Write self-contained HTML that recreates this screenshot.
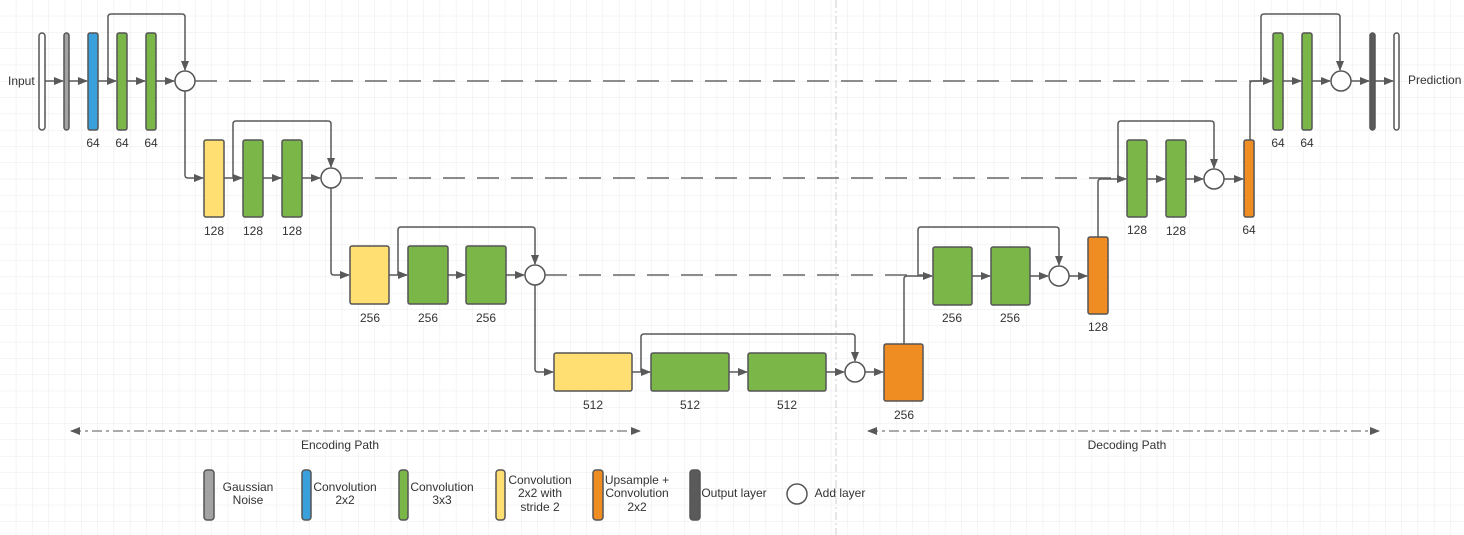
<!DOCTYPE html>
<html><head><meta charset="utf-8"><style>
html,body{margin:0;padding:0;background:#fff}
svg{display:block}
text{font-family:"Liberation Sans",sans-serif;font-size:12px;fill:#333}
</style></head><body>
<svg width="1464" height="535" viewBox="0 0 1464 535" xmlns="http://www.w3.org/2000/svg">
<defs>
<pattern id="g" width="16.3" height="16.3" patternUnits="userSpaceOnUse"><path d="M16.3 0V16.3H0" fill="none" stroke="#ebebeb" stroke-width="1"/></pattern>
<marker id="a" markerWidth="10" markerHeight="8" refX="9" refY="4" orient="auto" markerUnits="userSpaceOnUse"><path d="M0 0L10 4L0 8z" fill="#595959"/></marker>
<marker id="as" markerWidth="10" markerHeight="8" refX="1" refY="4" orient="auto" markerUnits="userSpaceOnUse"><path d="M10 0L0 4L10 8z" fill="#595959"/></marker>
</defs>
<rect width="1464" height="535" fill="url(#g)"/>
<line x1="836" y1="0" x2="836" y2="535" stroke="#cfcfcf" stroke-dasharray="8,3,2,3"/>
<g fill="none" stroke="#595959" stroke-width="1.5">
<path d="M195 81H1270" stroke-dasharray="22,12" stroke="#666"/>
<path d="M341 178H1124" stroke-dasharray="22,12" stroke="#666"/>
<path d="M545 275H930" stroke-dasharray="22,12" stroke="#666"/>
<path d="M45 81H63" marker-end="url(#a)"/><path d="M69 81H87" marker-end="url(#a)"/><path d="M98 81H116" marker-end="url(#a)"/><path d="M127 81H145" marker-end="url(#a)"/><path d="M156 81H174" marker-end="url(#a)"/>
<path d="M108 81V17q0-3 3-3H182q3 0 3 3V70" marker-end="url(#a)"/>
<path d="M185 91V175q0 3 3 3H203" marker-end="url(#a)"/>
<path d="M224 178H242" marker-end="url(#a)"/><path d="M263 178H281" marker-end="url(#a)"/><path d="M302 178H320" marker-end="url(#a)"/>
<path d="M233 178V124q0-3 3-3H328q3 0 3 3V167" marker-end="url(#a)"/>
<path d="M331 188V272q0 3 3 3H349" marker-end="url(#a)"/>
<path d="M389 275H407" marker-end="url(#a)"/><path d="M448 275H465" marker-end="url(#a)"/><path d="M506 275H524" marker-end="url(#a)"/>
<path d="M398 275V230q0-3 3-3H532q3 0 3 3V264" marker-end="url(#a)"/>
<path d="M535 285V369q0 3 3 3H553" marker-end="url(#a)"/>
<path d="M632 372H650" marker-end="url(#a)"/><path d="M729 372H747" marker-end="url(#a)"/><path d="M826 372H844" marker-end="url(#a)"/>
<path d="M641 372V337q0-3 3-3H852q3 0 3 3V361" marker-end="url(#a)"/>
<path d="M865 372H883" marker-end="url(#a)"/>
<path d="M904 344V279q0-3 3-3H932" marker-end="url(#a)"/>
<path d="M972 276H990" marker-end="url(#a)"/><path d="M1030 276H1048" marker-end="url(#a)"/><path d="M1069 276H1087" marker-end="url(#a)"/>
<path d="M918 276V230q0-3 3-3H1056q3 0 3 3V265" marker-end="url(#a)"/>
<path d="M1098 237V182q0-3 3-3H1126" marker-end="url(#a)"/>
<path d="M1147 179H1165" marker-end="url(#a)"/><path d="M1186 179H1203" marker-end="url(#a)"/><path d="M1224 179H1243" marker-end="url(#a)"/>
<path d="M1118 179V124q0-3 3-3H1211q3 0 3 3V168" marker-end="url(#a)"/>
<path d="M1250 140V84q0-3 3-3H1272" marker-end="url(#a)"/>
<path d="M1283 81H1301" marker-end="url(#a)"/><path d="M1312 81H1330" marker-end="url(#a)"/><path d="M1351 81H1369" marker-end="url(#a)"/><path d="M1375 81H1393" marker-end="url(#a)"/>
<path d="M1261 81V17q0-3 3-3H1337q3 0 3 3V70" marker-end="url(#a)"/>
<path d="M71 431H640" stroke="#777" stroke-width="1.3" stroke-dasharray="10,4,3,4" marker-start="url(#as)" marker-end="url(#a)"/>
<path d="M868 431H1379" stroke="#777" stroke-width="1.3" stroke-dasharray="10,4,3,4" marker-start="url(#as)" marker-end="url(#a)"/>
</g>
<g stroke="#555" stroke-width="1.5">
<rect x="39" y="33" width="6" height="97" rx="3" fill="#fff"/>
<rect x="64" y="33" width="5" height="97" rx="2.5" fill="#a3a3a3"/>
<rect x="88" y="33" width="10" height="97" rx="2" fill="#3aa0dc"/>
<rect x="117" y="33" width="10" height="97" rx="2" fill="#7ab648"/>
<rect x="146" y="33" width="10" height="97" rx="2" fill="#7ab648"/>
<circle cx="185" cy="81" r="10" fill="#fff"/>
<rect x="204" y="140" width="20" height="77" rx="2" fill="#ffdf71"/>
<rect x="243" y="140" width="20" height="77" rx="2" fill="#7ab648"/>
<rect x="282" y="140" width="20" height="77" rx="2" fill="#7ab648"/>
<circle cx="331" cy="178" r="10" fill="#fff"/>
<rect x="350" y="246" width="39" height="58" rx="2" fill="#ffdf71"/>
<rect x="408" y="246" width="40" height="58" rx="2" fill="#7ab648"/>
<rect x="466" y="246" width="40" height="58" rx="2" fill="#7ab648"/>
<circle cx="535" cy="275" r="10" fill="#fff"/>
<rect x="554" y="353" width="78" height="38" rx="2" fill="#ffdf71"/>
<rect x="651" y="353" width="78" height="38" rx="2" fill="#7ab648"/>
<rect x="748" y="353" width="78" height="38" rx="2" fill="#7ab648"/>
<circle cx="855" cy="372" r="10" fill="#fff"/>
<rect x="884" y="344" width="39" height="57" rx="2" fill="#ef8d22"/>
<rect x="933" y="247" width="39" height="58" rx="2" fill="#7ab648"/>
<rect x="991" y="247" width="39" height="58" rx="2" fill="#7ab648"/>
<circle cx="1059" cy="276" r="10" fill="#fff"/>
<rect x="1088" y="237" width="20" height="77" rx="2" fill="#ef8d22"/>
<rect x="1127" y="140" width="20" height="77" rx="2" fill="#7ab648"/>
<rect x="1166" y="140" width="20" height="77" rx="2" fill="#7ab648"/>
<circle cx="1214" cy="179" r="10" fill="#fff"/>
<rect x="1244" y="140" width="10" height="77" rx="2" fill="#ef8d22"/>
<rect x="1273" y="33" width="10" height="97" rx="2" fill="#7ab648"/>
<rect x="1302" y="33" width="10" height="97" rx="2" fill="#7ab648"/>
<circle cx="1341" cy="81" r="10" fill="#fff"/>
<rect x="1370" y="33" width="5" height="97" rx="2.5" fill="#5a5a5a"/>
<rect x="1394" y="33" width="5" height="97" rx="2.5" fill="#fff"/>
<rect x="204" y="470" width="10" height="50" rx="3" fill="#a3a3a3"/>
<rect x="302" y="470" width="9" height="50" rx="3" fill="#3aa0dc"/>
<rect x="399" y="470" width="9" height="50" rx="3" fill="#7ab648"/>
<rect x="496" y="470" width="9" height="50" rx="3" fill="#ffdf71"/>
<rect x="593" y="470" width="10" height="50" rx="3" fill="#ef8d22"/>
<rect x="690" y="470" width="10" height="50" rx="3" fill="#5a5a5a"/>
<circle cx="797" cy="494" r="10" fill="#fff"/>
</g>
<g text-anchor="middle">
<text x="93" y="147">64</text><text x="122" y="147">64</text><text x="151" y="147">64</text>
<text x="214" y="235">128</text><text x="253" y="235">128</text><text x="292" y="235">128</text>
<text x="370" y="322">256</text><text x="428" y="322">256</text><text x="486" y="322">256</text>
<text x="593" y="409">512</text><text x="690" y="409">512</text><text x="787" y="409">512</text>
<text x="904" y="419">256</text>
<text x="952" y="322">256</text><text x="1010" y="322">256</text>
<text x="1098" y="331">128</text>
<text x="1137" y="234">128</text><text x="1176" y="235">128</text>
<text x="1249" y="234">64</text>
<text x="1278" y="147">64</text><text x="1307" y="147">64</text>
<text x="340" y="449">Encoding Path</text>
<text x="1127" y="449">Decoding Path</text>
<text x="248" y="491">Gaussian</text><text x="248" y="504">Noise</text>
<text x="345" y="491">Convolution</text><text x="345" y="504">2x2</text>
<text x="442" y="491">Convolution</text><text x="442" y="504">3x3</text>
<text x="540" y="484">Convolution</text><text x="540" y="497">2x2 with</text><text x="540" y="511">stride 2</text>
<text x="637" y="484">Upsample +</text><text x="637" y="497">Convolution</text><text x="637" y="511">2x2</text>
<text x="734" y="497">Output layer</text>
<text x="840" y="497">Add layer</text>
</g>
<text x="8" y="85">Input</text>
<text x="1408" y="84">Prediction</text>
</svg>
</body></html>
